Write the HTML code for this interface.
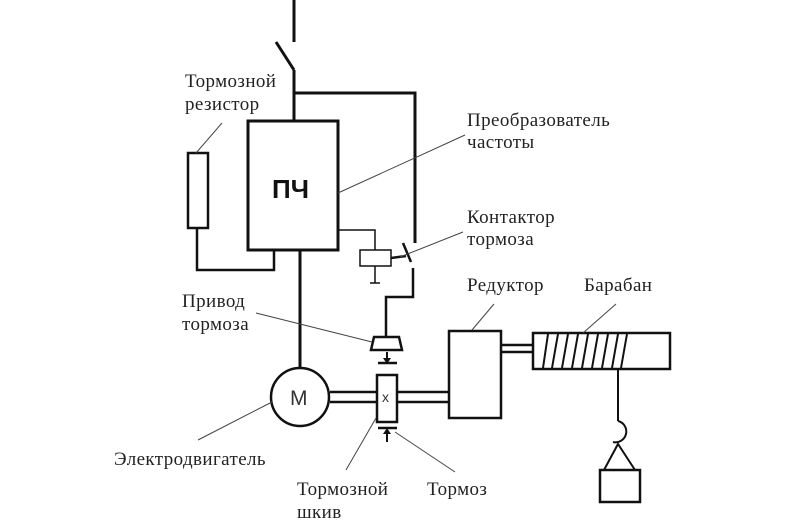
<!DOCTYPE html>
<html><head><meta charset="utf-8"><style>
html,body{margin:0;padding:0;background:#fff;}
svg{display:block;}
text{font-family:"Liberation Serif",serif;font-size:19px;letter-spacing:0.4px;fill:#222;}
</style></head><body>
<svg width="791" height="532" viewBox="0 0 791 532" xmlns="http://www.w3.org/2000/svg">
<g fill="none" stroke="#111" stroke-width="3">
  <line x1="294" y1="0" x2="294" y2="42"/>
  <line x1="276" y1="42" x2="294" y2="70"/>
  <line x1="294" y1="70" x2="294" y2="121"/>
  <rect x="248" y="121" width="90" height="129"/>
  <polyline points="294,93 415,93 415,243"/>
  <rect x="188" y="153" width="20" height="75" stroke-width="2.5"/>
  <polyline points="197,228 197,270 274,270 274,250" stroke-width="2.5"/>
  <line x1="300" y1="250" x2="300" y2="368"/>
  <circle cx="300" cy="397" r="29" stroke-width="2.5"/>
  <line x1="330" y1="392" x2="377" y2="392" stroke-width="2.5"/>
  <line x1="330" y1="402" x2="377" y2="402" stroke-width="2.5"/>
  <line x1="397" y1="392" x2="449" y2="392" stroke-width="2.5"/>
  <line x1="397" y1="402" x2="449" y2="402" stroke-width="2.5"/>
  <rect x="377" y="375" width="20" height="47" stroke-width="2.5"/>
  <line x1="403" y1="243" x2="411" y2="262" stroke-width="2.5"/>
  <polyline points="413,268 413,297 386,297 386,337" stroke-width="2.5"/>
  <polygon points="374,337 399,337 402,350 371,350" stroke-width="2.5"/>
  <line x1="378" y1="363" x2="397" y2="363" stroke-width="2.5"/>
  <line x1="378" y1="428" x2="397" y2="428" stroke-width="2.5"/>
  <line x1="387" y1="352" x2="387" y2="362" stroke-width="2"/>
  <line x1="387" y1="430" x2="387" y2="442" stroke-width="2"/>
  <rect x="449" y="331" width="52" height="87" stroke-width="2.5"/>
  <line x1="501" y1="345" x2="533" y2="345" stroke-width="2.5"/>
  <line x1="501" y1="352" x2="533" y2="352" stroke-width="2.5"/>
  <rect x="533" y="333" width="137" height="36" stroke-width="2.5"/>
  <g stroke-width="2">
    <line x1="543" y1="368" x2="548" y2="334"/>
    <line x1="552" y1="368" x2="558" y2="334"/>
    <line x1="562" y1="368" x2="568" y2="334"/>
    <line x1="572" y1="368" x2="578" y2="334"/>
    <line x1="582" y1="368" x2="588" y2="334"/>
    <line x1="592" y1="368" x2="598" y2="334"/>
    <line x1="602" y1="368" x2="608" y2="334"/>
    <line x1="612" y1="368" x2="618" y2="334"/>
    <line x1="621" y1="368" x2="627" y2="334"/>
  </g>
  <line x1="618" y1="369" x2="618" y2="421" stroke-width="2"/>
  <path d="M618,421 A9,9 0 1 1 613,442" stroke-width="2"/>
  <polyline points="604,470 618,444 635,470" stroke-width="2"/>
  <rect x="600" y="470" width="40" height="32" stroke-width="2.5"/>
</g>
<g fill="none" stroke="#111" stroke-width="1.5">
  <polyline points="338,230 375,230 375,250"/>
  <rect x="360" y="250" width="31" height="16"/>
  <line x1="375" y1="266" x2="375" y2="283"/>
  <line x1="370" y1="283" x2="380" y2="283"/>
  <line x1="391" y1="258" x2="406" y2="256" stroke-width="2.5"/>
</g>
<polygon points="383,358 391,358 387,364" fill="#111"/>
<polygon points="383,434 391,434 387,428" fill="#111"/>
<g stroke="#444" stroke-width="1">
  <line x1="196" y1="153" x2="222" y2="123"/>
  <line x1="338" y1="193" x2="465" y2="135"/>
  <line x1="400" y1="257" x2="463" y2="232"/>
  <line x1="256" y1="313" x2="372" y2="342"/>
  <line x1="198" y1="440" x2="272" y2="402"/>
  <line x1="346" y1="470" x2="376" y2="418"/>
  <line x1="395" y1="432" x2="455" y2="472"/>
  <line x1="472" y1="330" x2="494" y2="304"/>
  <line x1="583" y1="333" x2="616" y2="304"/>
</g>
<text x="272" y="198" style="font-family:'Liberation Sans',sans-serif;font-weight:bold;font-size:26px;letter-spacing:0;fill:#111">ПЧ</text>
<text x="290" y="405" style="font-family:'Liberation Sans',sans-serif;font-size:21px;letter-spacing:0;fill:#333">М</text>
<text x="382" y="402" style="font-family:'Liberation Sans',sans-serif;font-size:14px;letter-spacing:0;fill:#333">x</text>
<text x="185" y="87">Тормозной</text>
<text x="185" y="110">резистор</text>
<text x="467" y="126">Преобразователь</text>
<text x="467" y="148">частоты</text>
<text x="467" y="223">Контактор</text>
<text x="467" y="245">тормоза</text>
<text x="467" y="291">Редуктор</text>
<text x="584" y="291">Барабан</text>
<text x="182" y="307">Привод</text>
<text x="182" y="330">тормоза</text>
<text x="114" y="465">Электродвигатель</text>
<text x="297" y="495">Тормозной</text>
<text x="297" y="518">шкив</text>
<text x="427" y="495">Тормоз</text>
</svg>
</body></html>
